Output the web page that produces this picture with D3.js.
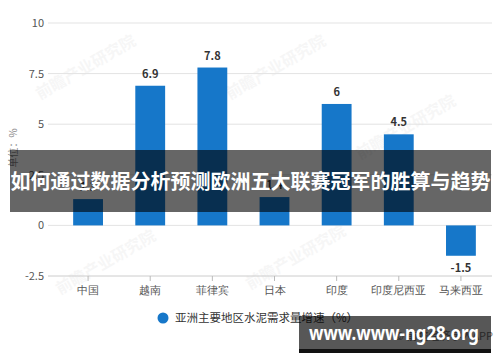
<!DOCTYPE html>
<html lang="zh">
<head>
<meta charset="UTF-8">
<title>亚洲主要地区水泥需求量增速</title>
<script src="https://cdnjs.cloudflare.com/ajax/libs/d3/7.8.5/d3.min.js"></script>
<style>
    body { margin: 0; background: #fff; }
    svg { display: block; font-family: "Noto Sans CJK SC", "Noto Sans", sans-serif; }
    .grid line { stroke: #e3e3e3; stroke-width: 1; }
    .tick-label { font-size: 11px; fill: #555; }
    .value-label { font-size: 11px; font-weight: bold; fill: #333; text-anchor: middle; }
    .watermark { font-size: 16px; font-weight: bold; fill: #000; opacity: 0.03; }
</style>
</head>
<body>
<svg id="chart" width="500" height="362"></svg>
<script>
    // --- Data ---
    const categories = ["中国", "越南", "菲律宾", "日本", "印度", "印度尼西亚", "马来西亚"];
    const growth = [1.3, 6.9, 7.8, 1.4, 6, 4.5, -1.5];
    const yTicks = [-2.5, 0, 2.5, 5, 7.5, 10];
    const seriesName = "亚洲主要地区水泥需求量增速（%）";
    const bannerTitle = "如何通过数据分析预测欧洲五大联赛冠军的胜算与趋势";

    const svg = d3.select("#chart");
    const barColor = "#1677c9";

    const x = d3.scaleBand()
        .domain(categories)
        .range([57, 492])
        .paddingInner(0.52)
        .paddingOuter(0.26);

    const y = d3.scaleLinear()
        .domain([-2.5, 10])
        .range([276, 23]);

    // faint watermarks (kept inside the frame)
    const marks = [[40, 100], [230, 100], [360, 160], [250, 290], [60, 295]];
    marks.forEach(([mx, my]) => {
        svg.append("text")
            .attr("class", "watermark")
            .attr("transform", `translate(${mx},${my}) rotate(-30)`)
            .text("前瞻产业研究院");
    });

    // gridlines
    svg.append("g").attr("class", "grid")
        .selectAll("line")
        .data(yTicks.filter(d => d > -2.5))
        .join("line")
        .attr("x1", 48).attr("x2", 492)
        .attr("y1", d => y(d)).attr("y2", d => y(d));

    // y tick labels
    svg.append("g")
        .selectAll("text")
        .data(yTicks)
        .join("text")
        .attr("class", "tick-label")
        .attr("x", 44)
        .attr("y", d => y(d) + 4)
        .attr("text-anchor", "end")
        .text(d => d);

    // y axis title
    svg.append("text")
        .attr("transform", `translate(17,148) rotate(-90)`)
        .attr("text-anchor", "middle")
        .style("font-size", "10px")
        .style("fill", "#888")
        .text("单位：%");

    // bottom axis
    const xAxis = svg.append("g")
        .attr("transform", `translate(0,${y(-2.5)})`)
        .call(d3.axisBottom(x).tickSize(5).tickSizeOuter(0).tickPadding(5));
    xAxis.select(".domain").attr("d", "M48,0H492").attr("stroke", "#ccc");
    xAxis.selectAll(".tick line").attr("stroke", "#bbb");
    xAxis.selectAll(".tick text")
        .attr("class", "tick-label")
        .style("font-family", "inherit");

    // bars
    svg.append("g")
        .selectAll("rect")
        .data(growth)
        .join("rect")
        .attr("x", (d, i) => x(categories[i]))
        .attr("width", x.bandwidth())
        .attr("y", d => y(Math.max(0, d)))
        .attr("height", d => Math.abs(y(d) - y(0)))
        .attr("fill", barColor);

    // value labels
    svg.append("g")
        .selectAll("text")
        .data(growth)
        .join("text")
        .attr("class", "value-label")
        .attr("x", (d, i) => x(categories[i]) + x.bandwidth() / 2)
        .attr("y", d => d >= 0 ? y(d) - 8 : y(d) + 16)
        .text(d => d);

    // legend
    const legend = svg.append("g");
    legend.append("circle")
        .attr("cx", 163).attr("cy", 318).attr("r", 5.5)
        .attr("fill", barColor);
    legend.append("text")
        .attr("x", 175).attr("y", 322)
        .style("font-size", "11.5px")
        .style("fill", "#333")
        .text(seriesName);

    // source text, mostly covered by the box
    svg.append("text")
        .attr("x", 493).attr("y", 340)
        .attr("text-anchor", "end")
        .style("font-size", "11px")
        .style("fill", "#777")
        .text("© 前瞻经济学人APP");

    // banner overlay
    svg.append("rect")
        .attr("x", 10).attr("y", 150)
        .attr("width", 481).attr("height", 62)
        .attr("fill", "rgba(0,0,0,0.6)");
    svg.append("text")
        .attr("x", 250.5).attr("y", 189)
        .attr("text-anchor", "middle")
        .style("font-size", "20px")
        .style("font-weight", "bold")
        .style("fill", "#fff")
        .text(bannerTitle);

    // url box
    svg.append("rect")
        .attr("x", 299).attr("y", 316)
        .attr("width", 192).attr("height", 34)
        .attr("fill", "rgba(0,0,0,0.66)");
    svg.append("rect")
        .attr("x", 299).attr("y", 349)
        .attr("width", 192).attr("height", 4)
        .attr("fill", "#111");
    svg.append("text")
        .attr("x", 309).attr("y", 340)
        .attr("textLength", 170)
        .attr("lengthAdjust", "spacingAndGlyphs")
        .style("font-family", "'Noto Sans', sans-serif")
        .style("font-size", "19px")
        .style("font-weight", "bold")
        .style("fill", "#fff")
        .text("www.www-ng28.org");
</script>
</body>
</html>
